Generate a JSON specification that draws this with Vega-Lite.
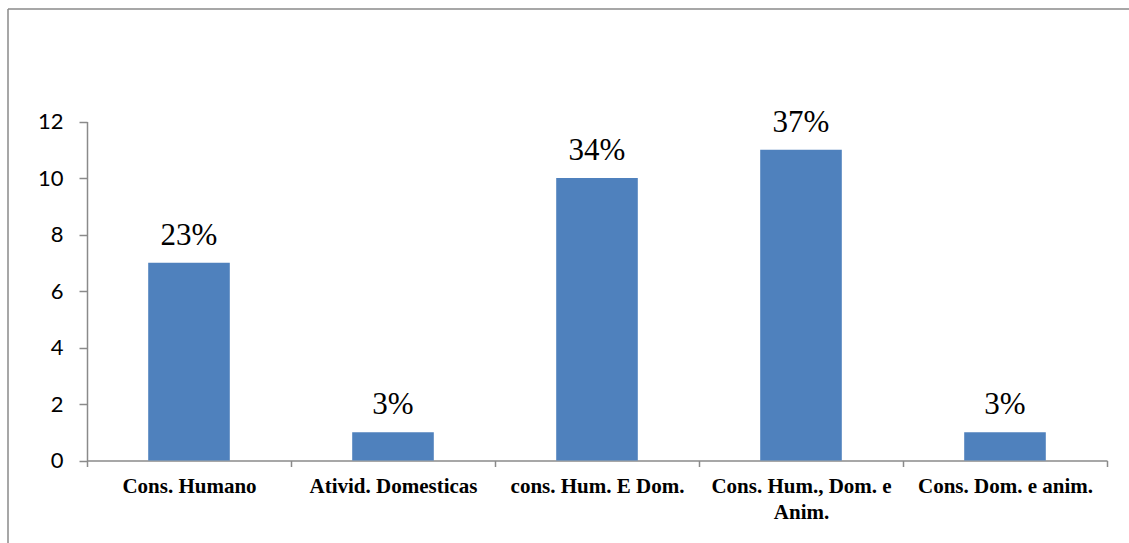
{
  "$schema": "https://vega.github.io/schema/vega-lite/v6.json",
  "autosize": "none",
  "padding": {"left": 8, "top": 9, "right": 0, "bottom": 0},
  "width": 1121,
  "height": 534,
  "config": {
    "view": {"stroke": "#8a8a8a", "strokeWidth": 1.5, "strokeDash": [1121, 1655, 534, 0]},
    "axis": {"grid": false, "domainColor": "#8a8a8a", "tickColor": "#8a8a8a", "domainWidth": 1.5, "tickWidth": 1.5, "title": null}
  },
  "data": {
    "values": [
      {"category": "Cons. Humano", "value": 7, "label": "23%"},
      {"category": "Ativid. Domesticas", "value": 1, "label": "3%"},
      {"category": "cons. Hum. E Dom.", "value": 10, "label": "34%"},
      {"category": "Cons. Hum., Dom. e Anim.", "value": 11, "label": "37%"},
      {"category": "Cons. Dom. e anim.", "value": 1, "label": "3%"}
    ]
  },
  "encoding": {
    "x": {
      "field": "category",
      "type": "nominal",
      "sort": null,
      "scale": {"range": [79, 1099], "paddingInner": 0, "paddingOuter": 0},
      "axis": {
        "orient": "bottom",
        "offset": -82.5,
        "tickBand": "extent",
        "tickSize": 6,
        "labelAngle": 0,
        "labelFont": "Liberation Serif",
        "labelFontWeight": "bold",
        "labelFontSize": 21,
        "labelColor": "#000000",
        "labelPadding": 9,
        "labelLimit": 0,
        "labelFlush": false,
        "labelLineHeight": 26,
        "labelExpr": "datum.value == 'Cons. Hum., Dom. e Anim.' ? ['Cons. Hum., Dom. e', 'Anim.'] : datum.value"
      }
    },
    "y": {
      "field": "value",
      "type": "quantitative",
      "scale": {"domain": [0, 12], "range": [451.5, 112.5], "nice": false, "zero": true},
      "axis": {
        "orient": "left",
        "offset": -79,
        "values": [0, 2, 4, 6, 8, 10, 12],
        "tickSize": 8,
        "labelPadding": 16,
        "labelFont": "Lato",
        "labelFontSize": 22,
        "labelColor": "#000000"
      }
    }
  },
  "layer": [
    {
      "mark": {"type": "bar", "color": "#4F81BD", "width": {"band": 0.4}}
    },
    {
      "mark": {"type": "text", "font": "Liberation Serif", "fontSize": 31, "baseline": "bottom", "dy": -11, "color": "#000000"},
      "encoding": {"text": {"field": "label"}}
    }
  ]
}
